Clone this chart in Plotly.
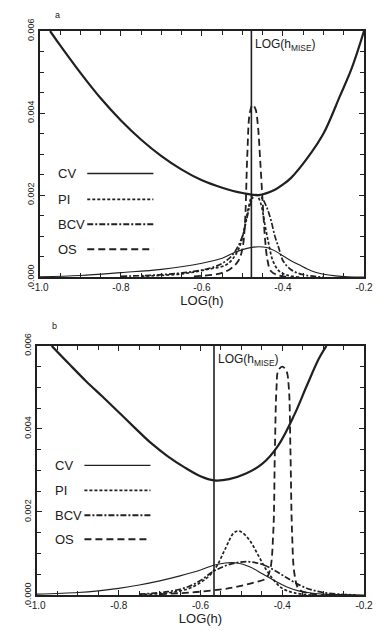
import plotly.graph_objects as go

# ---------------- panel a data ----------------
a_cv_x = [-0.975, -0.95, -0.90, -0.85, -0.80, -0.75, -0.70, -0.65, -0.60, -0.55, -0.50, -0.46, -0.42, -0.40, -0.38, -0.34, -0.30, -0.26, -0.23, -0.20]
a_cv_y = [0.00600, 0.00565, 0.00498, 0.00436, 0.00382, 0.00335, 0.00295, 0.00262, 0.00236, 0.00218, 0.00205, 0.00200, 0.00213, 0.00226, 0.00242, 0.00290, 0.00350, 0.00440, 0.00510, 0.00600]

a_cvd_x = [-1.0, -0.9, -0.8, -0.7, -0.6, -0.55, -0.52, -0.50, -0.48, -0.46, -0.44, -0.42, -0.40, -0.38, -0.36, -0.34, -0.32, -0.30, -0.27, -0.24, -0.20]
a_cvd_y = [0.00001, 0.00004, 0.00011, 0.00019, 0.00034, 0.00046, 0.00060, 0.00067, 0.00072, 0.00074, 0.00072, 0.00064, 0.00052, 0.00040, 0.00030, 0.00020, 0.00012, 0.00007, 0.00003, 0.00001, 0.0]

a_pi_x = [-0.75, -0.65, -0.58, -0.54, -0.52, -0.505, -0.495, -0.485, -0.475, -0.465, -0.455, -0.445, -0.435, -0.425, -0.41, -0.39, -0.36]
a_pi_y = [0.00002, 0.00008, 0.0002, 0.0003, 0.0005, 0.0008, 0.0012, 0.0017, 0.0020, 0.0020, 0.0018, 0.0013, 0.0008, 0.0004, 0.00015, 0.00005, 0.0]

a_bcv_x = [-0.80, -0.70, -0.62, -0.57, -0.54, -0.52, -0.50, -0.49, -0.48, -0.47, -0.46, -0.45, -0.44, -0.43, -0.42, -0.41, -0.40, -0.38, -0.35, -0.30]
a_bcv_y = [0.00002, 0.00006, 0.00014, 0.00025, 0.0004, 0.0006, 0.0010, 0.0014, 0.0018, 0.0020, 0.0020, 0.0019, 0.0017, 0.0014, 0.0010, 0.0007, 0.0004, 0.00018, 0.00006, 0.0]

a_os_x = [-0.62, -0.56, -0.53, -0.51, -0.50, -0.494, -0.488, -0.482, -0.475, -0.468, -0.462, -0.456, -0.450, -0.444, -0.438, -0.43, -0.41, -0.38]
a_os_y = [0.00002, 0.00008, 0.0002, 0.0004, 0.0007, 0.0013, 0.0030, 0.0040, 0.0042, 0.0041, 0.0037, 0.0028, 0.0018, 0.0009, 0.0004, 0.00015, 0.00004, 0.0]

a_hmise = -0.478

# ---------------- panel b data ----------------
b_cv_x = [-0.964, -0.92, -0.88, -0.84, -0.80, -0.76, -0.72, -0.68, -0.64, -0.60, -0.567, -0.53, -0.49, -0.45, -0.41, -0.37, -0.34, -0.31, -0.292]
b_cv_y = [0.0060, 0.00555, 0.00515, 0.00478, 0.00440, 0.00402, 0.00365, 0.00334, 0.00308, 0.00286, 0.00276, 0.00279, 0.00292, 0.00315, 0.00360, 0.00435, 0.00504, 0.00570, 0.0060]

b_cvd_x = [-1.0, -0.9, -0.85, -0.8, -0.75, -0.7, -0.65, -0.6, -0.57, -0.54, -0.51, -0.48, -0.45, -0.42, -0.39, -0.36, -0.33, -0.3, -0.25, -0.2]
b_cvd_y = [0.00002, 0.00006, 0.0001, 0.00016, 0.00024, 0.00034, 0.00046, 0.0006, 0.00071, 0.00077, 0.00077, 0.00068, 0.00052, 0.00035, 0.0002, 0.0001, 0.00005, 0.00002, 0.00001, 0.0]

b_pi_x = [-0.75, -0.68, -0.63, -0.60, -0.58, -0.56, -0.54, -0.52, -0.51, -0.50, -0.48, -0.46, -0.44, -0.42, -0.40, -0.37, -0.33]
b_pi_y = [0.00001, 0.00005, 0.00015, 0.0003, 0.00045, 0.0007, 0.00110, 0.00148, 0.00154, 0.00152, 0.00132, 0.00098, 0.00062, 0.00035, 0.00016, 0.00005, 0.0]

b_bcv_x = [-0.75, -0.68, -0.63, -0.60, -0.57, -0.54, -0.51, -0.48, -0.45, -0.42, -0.39, -0.36, -0.33, -0.30, -0.26, -0.22]
b_bcv_y = [0.00002, 0.00008, 0.0002, 0.00035, 0.00056, 0.00070, 0.00078, 0.0008, 0.00074, 0.0006, 0.00042, 0.00025, 0.00013, 0.00006, 0.00002, 0.0]

b_os_x = [-0.70, -0.60, -0.52, -0.47, -0.44, -0.43, -0.422, -0.418, -0.414, -0.41, -0.40, -0.39, -0.384, -0.380, -0.376, -0.37, -0.36, -0.34, -0.30]
b_os_y = [0.00002, 0.00008, 0.00018, 0.0003, 0.0004, 0.0006, 0.0015, 0.0035, 0.0050, 0.0054, 0.0055, 0.0054, 0.0050, 0.0035, 0.0015, 0.0005, 0.00015, 0.00005, 0.0]

b_hmise = -0.567

x_ticks = [-1.0, -0.8, -0.6, -0.4, -0.2]
x_tick_text = ["-1.0", "-0.8", "-0.6", "-0.4", "-0.2"]
y_ticks = [0.000, 0.002, 0.004, 0.006]
y_tick_text = ["0.000", "0.002", "0.004", "0.006"]
legend_names = ["CV", "PI", "BCV", "OS"]

INK = "#202020"
FONT = "Liberation Sans"

styles = {
    "CV": dict(width=1.1, dash="solid"),
    "PI": dict(width=1.7, dash="3px,2px"),
    "BCV": dict(width=1.7, dash="6px,2px,2px,2px"),
    "OS": dict(width=1.8, dash="7px,4px"),
}

fig = go.Figure()

def add_panel(xa, ya, cv, dens):
    cx, cy = cv
    fig.add_trace(go.Scatter(x=cx, y=cy, mode="lines", xaxis=xa, yaxis=ya, line_shape="spline",
                             line=dict(color=INK, width=2.2), showlegend=False, hoverinfo="skip"))
    for name, (dx, dy) in dens.items():
        fig.add_trace(go.Scatter(x=dx, y=dy, mode="lines", xaxis=xa, yaxis=ya,
                                 line=dict(color=INK, **styles[name]), showlegend=False,
                                 line_shape="spline", hoverinfo="skip"))

add_panel("x", "y", (a_cv_x, a_cv_y), {"CV": (a_cvd_x, a_cvd_y), "PI": (a_pi_x, a_pi_y),
                                          "BCV": (a_bcv_x, a_bcv_y), "OS": (a_os_x, a_os_y)})
add_panel("x2", "y2", (b_cv_x, b_cv_y), {"CV": (b_cvd_x, b_cvd_y), "PI": (b_pi_x, b_pi_y),
                                            "BCV": (b_bcv_x, b_bcv_y), "OS": (b_os_x, b_os_y)})

# empty traces so the mirrored tick axes are drawn
fig.add_trace(go.Scatter(x=[], y=[], xaxis="x3", yaxis="y3", showlegend=False))
fig.add_trace(go.Scatter(x=[], y=[], xaxis="x4", yaxis="y4", showlegend=False))

tick_common = dict(ticks="inside", ticklen=5, tickwidth=1.2, tickcolor=INK, showgrid=False, zeroline=False)

def xaxis(domain, anchor):
    return dict(domain=domain, anchor=anchor, range=[-1.0, -0.2], tickvals=x_ticks, ticktext=x_tick_text,
                minor=dict(dtick=0.05, tick0=-1.0, ticks="inside", ticklen=4, tickcolor=INK, showgrid=False),
                showline=True, linewidth=2, linecolor=INK, mirror=True,
                tickfont=dict(family=FONT, size=10, color=INK),
                title=dict(text="LOG(h)", font=dict(family=FONT, size=13, color=INK), standoff=2),
                **tick_common)

def yaxis(domain, anchor):
    return dict(domain=domain, anchor=anchor, range=[0, 0.006], tickvals=y_ticks, ticktext=y_tick_text,
                tickangle=-90,
                minor=dict(dtick=0.0005, tick0=0, ticks="inside", ticklen=4, tickcolor=INK, showgrid=False),
                showline=True, linewidth=2, linecolor=INK, mirror=True,
                tickfont=dict(family=FONT, size=9, color=INK), **tick_common)

def xmirror(over, anchor):
    return dict(overlaying=over, anchor=anchor, side="top", range=[-1.0, -0.2], tickvals=x_ticks,
                showticklabels=False, showline=False,
                minor=dict(dtick=0.05, tick0=-1.0, ticks="inside", ticklen=4, tickcolor=INK, showgrid=False),
                **tick_common)

def ymirror(over, anchor):
    return dict(overlaying=over, anchor=anchor, side="right", range=[0, 0.006], tickvals=y_ticks,
                showticklabels=False, showline=False,
                minor=dict(dtick=0.0005, tick0=0, ticks="inside", ticklen=4, tickcolor=INK, showgrid=False),
                **tick_common)

fig.update_layout(
    width=385, height=634,
    margin=dict(l=37, r=17, t=31, b=37),
    paper_bgcolor="white", plot_bgcolor="white",
    showlegend=False,
    xaxis=xaxis([0.009, 1.0], "y"),
    yaxis=yaxis([0.5636, 1.0], "x"),
    xaxis2=xaxis([0.0, 1.0], "y2"),
    yaxis2=yaxis([0.0, 0.4417], "x2"),
    xaxis3=xmirror("x", "y3"),
    yaxis3=ymirror("y", "x3"),
    xaxis4=xmirror("x2", "y4"),
    yaxis4=ymirror("y2", "x4"),
)

shapes = []
annotations = []

def decorate(xr, yr, hmise, leg_y, tx, lx0, lx1, letter, letter_y):
    shapes.append(dict(type="line", xref=xr, yref=yr + " domain", x0=hmise, x1=hmise, y0=0, y1=1,
                       line=dict(color=INK, width=1.6)))
    annotations.append(dict(xref=xr, yref=yr + " domain", x=hmise, y=0.985, xanchor="left", yanchor="top",
                            xshift=2, showarrow=False, text="LOG(h<sub>MISE</sub>)",
                            font=dict(family=FONT, size=12, color=INK)))
    for name, yy in zip(legend_names, leg_y):
        annotations.append(dict(xref=xr + " domain", yref=yr + " domain", x=tx, y=yy, xanchor="left",
                                yanchor="middle", showarrow=False, text=name,
                                font=dict(family=FONT, size=13, color=INK)))
        st = styles[name]
        shapes.append(dict(type="line", xref=xr + " domain", yref=yr + " domain", x0=lx0, x1=lx1, y0=yy, y1=yy,
                           line=dict(color=INK, width=st["width"] + 0.2, dash=st["dash"])))
    annotations.append(dict(xref=xr + " domain", yref=yr + " domain", x=0.04, y=letter_y, xanchor="left",
                            yanchor="middle", showarrow=False, text=letter,
                            font=dict(family=FONT, size=9, color=INK)))

decorate("x", "y", a_hmise, [0.421, 0.316, 0.215, 0.113], 0.05, 0.146, 0.35, "a", 1.065)
decorate("x2", "y2", b_hmise, [0.52, 0.42, 0.32, 0.224], 0.05, 0.145, 0.347, "b", 1.08)

fig.update_layout(shapes=shapes, annotations=annotations)
fig.write_html("out.html")
